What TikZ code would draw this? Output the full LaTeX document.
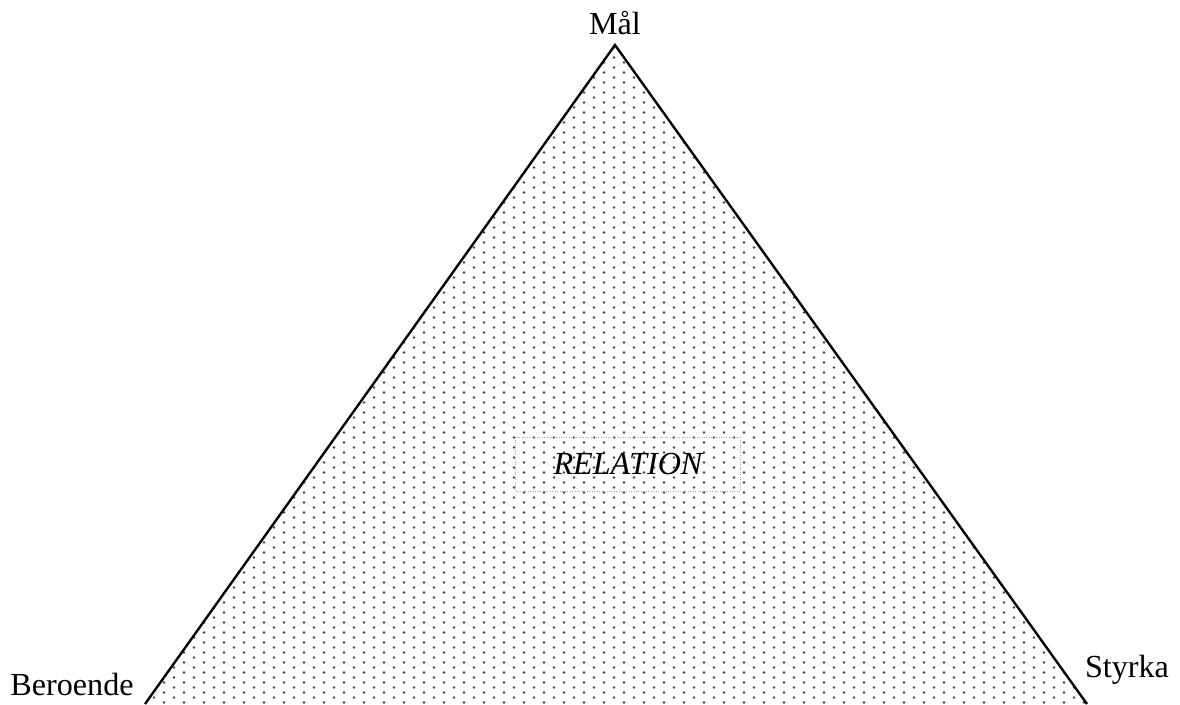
\documentclass[tikz,border=0pt]{standalone}
\usepackage{fontspec}
\setmainfont{Liberation Serif}
\usetikzlibrary{patterns}
\pgfdeclarepatternformonly{sparse dots}{\pgfpointorigin}{\pgfpoint{11.38pt}{5.69pt}}{\pgfpoint{11.38pt}{5.69pt}}{%
  \pgfpathcircle{\pgfpoint{2.85pt}{1.42pt}}{0.72pt}%
  \pgfpathcircle{\pgfpoint{8.54pt}{4.27pt}}{0.72pt}%
  \pgfusepath{fill}}
\tikzset{
  lbl/.style={font=\fontsize{18.3}{22}\selectfont,inner sep=0pt},
  side/.style={line width=1.35pt,black}
}
\begin{document}
\begin{tikzpicture}[x=0.02cm,y=0.02cm]
    \useasboundingbox (0,0) rectangle (1180,704);
    \coordinate (top) at (615,659);
    \coordinate (bl) at (145,0);
    \coordinate (br) at (1087,0);
    \fill[pattern=sparse dots,pattern color=black!75] (bl)--(top)--(br)--cycle;
    \draw[side] (bl)--(top)--(br);
    \node[lbl,anchor=base] (mal) at (615,669){Mål};
    \node[lbl,anchor=base] (beroende) at (72,9){Beroende};
    \node[lbl,anchor=base] (styrka) at (1127,27){Styrka};
    \node[lbl,font=\fontsize{18.3}{22}\selectfont\itshape,draw=black!35,densely dotted,line width=0.4pt,
      minimum width=225*0.02cm,minimum height=54*0.02cm] (relation) at (628,240){RELATION};
  \end{tikzpicture}
\end{document}
